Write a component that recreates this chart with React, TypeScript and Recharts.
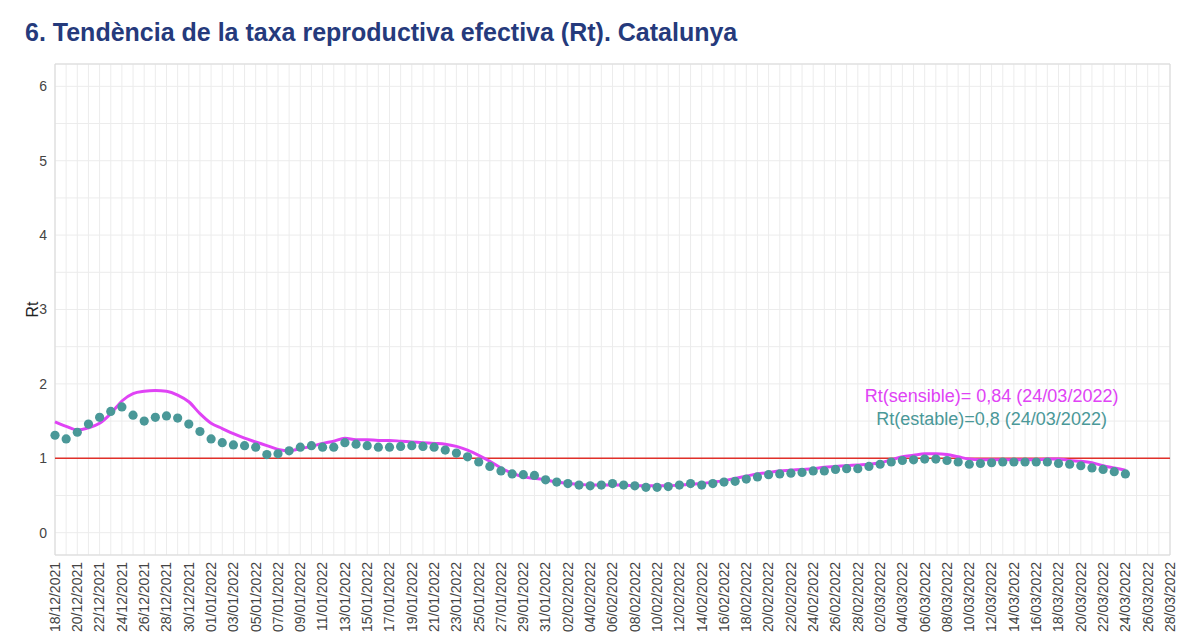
import {
  ComposedChart,
  Line,
  Scatter,
  XAxis,
  YAxis,
  CartesianGrid,
  ReferenceLine,
  ReferenceArea,
  ReferenceDot,
} from "recharts";

// day-by-day Rt values, starting 18/12/2021
const sensible = [
  1.49, 1.43, 1.38, 1.41, 1.47, 1.6, 1.77, 1.87, 1.9, 1.91,
  1.9, 1.85, 1.76, 1.6, 1.47, 1.4, 1.33, 1.27, 1.22, 1.17,
  1.12, 1.1, 1.13, 1.16, 1.2, 1.23, 1.27, 1.25, 1.25, 1.24,
  1.24, 1.23, 1.22, 1.21, 1.2, 1.19, 1.16, 1.11, 1.04, 0.96,
  0.87, 0.8, 0.75, 0.73, 0.71, 0.68, 0.66, 0.65, 0.64, 0.64,
  0.64, 0.64, 0.63, 0.63, 0.63, 0.63, 0.64, 0.65, 0.66, 0.68,
  0.7, 0.73, 0.76, 0.79, 0.81, 0.83, 0.84, 0.85, 0.86, 0.88,
  0.89, 0.9, 0.91, 0.92, 0.94, 0.98, 1.02, 1.04, 1.06, 1.06,
  1.05, 1.02, 0.99, 0.98, 0.98, 0.98, 0.98, 0.98, 0.98, 0.99,
  0.99, 0.97, 0.96, 0.94, 0.9, 0.87, 0.84,
];

const estable = [
  1.31, 1.26, 1.35, 1.46, 1.55, 1.63, 1.69, 1.58, 1.5, 1.55,
  1.57, 1.54, 1.46, 1.36, 1.26, 1.21, 1.18, 1.17, 1.15, 1.05,
  1.06, 1.1, 1.15, 1.17, 1.15, 1.15, 1.21, 1.19, 1.17, 1.15,
  1.15, 1.16, 1.17, 1.16, 1.15, 1.11, 1.07, 1.02, 0.95, 0.89,
  0.83, 0.79, 0.78, 0.77, 0.71, 0.68, 0.66, 0.64, 0.63, 0.64,
  0.66, 0.64, 0.63, 0.61, 0.61, 0.62, 0.64, 0.66, 0.64, 0.66,
  0.68, 0.69, 0.72, 0.75, 0.78, 0.79, 0.8, 0.81, 0.83, 0.83,
  0.85, 0.86, 0.86, 0.89, 0.92, 0.95, 0.97, 0.98, 0.99, 0.99,
  0.97, 0.95, 0.92, 0.93, 0.94, 0.95, 0.95, 0.95, 0.95, 0.95,
  0.93, 0.92, 0.9, 0.87, 0.85, 0.82, 0.79,
];

// one label every two days
const tickLabels = [
  "18/12/2021", "20/12/2021", "22/12/2021", "24/12/2021", "26/12/2021",
  "28/12/2021", "30/12/2021", "01/01/2022", "03/01/2022", "05/01/2022",
  "07/01/2022", "09/01/2022", "11/01/2022", "13/01/2022", "15/01/2022",
  "17/01/2022", "19/01/2022", "21/01/2022", "23/01/2022", "25/01/2022",
  "27/01/2022", "29/01/2022", "31/01/2022", "02/02/2022", "04/02/2022",
  "06/02/2022", "08/02/2022", "10/02/2022", "12/02/2022", "14/02/2022",
  "16/02/2022", "18/02/2022", "20/02/2022", "22/02/2022", "24/02/2022",
  "26/02/2022", "28/02/2022", "02/03/2022", "04/03/2022", "06/03/2022",
  "08/03/2022", "10/03/2022", "12/03/2022", "14/03/2022", "16/03/2022",
  "18/03/2022", "20/03/2022", "22/03/2022", "24/03/2022", "26/03/2022",
  "28/03/2022",
];

const yTicks = [0, 0.5, 1, 1.5, 2, 2.5, 3, 3.5, 4, 4.5, 5, 5.5, 6];

const data = estable.map((v, i) => ({ day: i, estable: v, sensible: sensible[i] }));
const xTicks = Array.from({ length: tickLabels.length * 2 - 1 }, (_, i) => i);

const FONT = "'Liberation Sans', Arial, Helvetica, sans-serif";
const MAGENTA = "#e043f5";
const TEAL = "#4a9898";

const DateTick = (props: any) => {
  const { x, payload } = props;
  if (payload.value % 2 !== 0) return null;
  const y = 562;
  return (
    <text
      x={x}
      y={y}
      transform={`rotate(-90, ${x}, ${y})`}
      textAnchor="end"
      dy="0.35em"
      fontSize={14}
      fill="#444"
      fontFamily={FONT}
    >
      {tickLabels[payload.value / 2]}
    </text>
  );
};

export default function App() {
  return (
    <div style={{ position: "relative", width: 1200, height: 644, margin: -8, background: "white", fontFamily: FONT }}>
      <div style={{
        position: "absolute",
        left: 25,
        top: 18,
        fontSize: 25,
        fontWeight: "bold",
        color: "#253a7c",
        whiteSpace: "nowrap",
      }}>
        6. Tendència de la taxa reproductiva efectiva (Rt). Catalunya
      </div>

      <ComposedChart
        width={1200}
        height={644}
        data={data}
        margin={{ top: 64, right: 30, bottom: 0, left: 0 }}
      >
        <CartesianGrid stroke="#ececec" horizontal={true} vertical={true} />
        <XAxis
          dataKey="day"
          type="number"
          domain={[0, 100]}
          ticks={xTicks}
          interval={0}
          height={89}
          tickLine={false}
          axisLine={false}
          tick={<DateTick />}
        />
        <YAxis
          type="number"
          domain={[-0.3, 6.3]}
          ticks={yTicks}
          interval={0}
          width={55}
          tickLine={false}
          axisLine={false}
          tickFormatter={(v: number) => (Number.isInteger(v) ? String(v) : "")}
          tick={{ fontSize: 14, fill: "#444", fontFamily: FONT }}
          label={{ value: "Rt", angle: -90, position: "insideLeft", offset: 32, style: { fontSize: 16, fill: "#222", fontFamily: FONT, textAnchor: "middle" } }}
        />
        <ReferenceArea x1={0} x2={100} y1={-0.3} y2={6.3} fill="none" stroke="#d9d9d9" strokeWidth={1} />
        <ReferenceLine y={1} stroke="#e0302a" strokeWidth={1.5} />
        <Scatter
          dataKey="estable"
          isAnimationActive={false}
          shape={(p: any) => <circle cx={p.cx} cy={p.cy} r={4.6} fill={TEAL} />}
        />
        <Line
          dataKey="sensible"
          type="monotone"
          stroke={MAGENTA}
          strokeWidth={3}
          dot={false}
          isAnimationActive={false}
        />
        <ReferenceDot
          x={84}
          y={1.84}
          r={0}
          fill="none"
          stroke="none"
          label={{ value: "Rt(sensible)= 0,84 (24/03/2022)", position: "center", fill: MAGENTA, fontSize: 18, fontFamily: FONT }}
        />
        <ReferenceDot
          x={84}
          y={1.54}
          r={0}
          fill="none"
          stroke="none"
          label={{ value: "Rt(estable)=0,8 (24/03/2022)", position: "center", fill: TEAL, fontSize: 18, fontFamily: FONT }}
        />
      </ComposedChart>
    </div>
  );
}
